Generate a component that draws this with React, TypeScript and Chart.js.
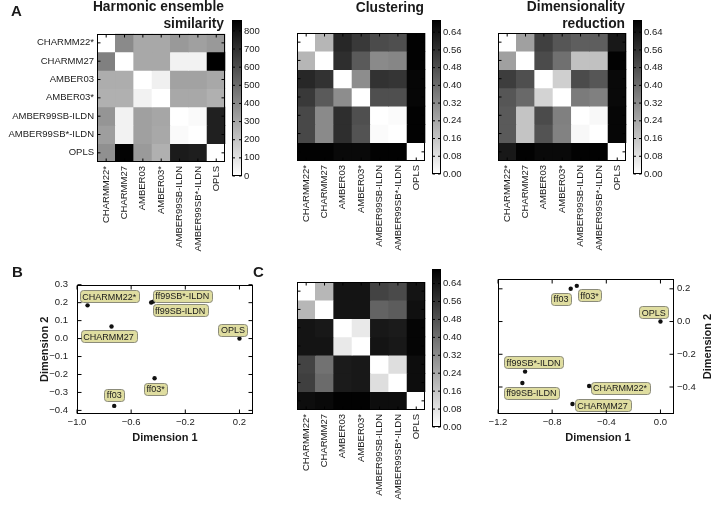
import React, { useEffect, useRef } from "react";
import { Chart, registerables } from "chart.js";

Chart.register(...registerables);

// ---------------- DATA ----------------
const models = [
  "CHARMM22*",
  "CHARMM27",
  "AMBER03",
  "AMBER03*",
  "AMBER99SB-ILDN",
  "AMBER99SB*-ILDN",
  "OPLS",
];

const harmonicValues = [
  [0, 395, 293, 293, 344, 320, 344],
  [428, 0, 293, 293, 45, 45, 860],
  [276, 276, 0, 50, 314, 314, 293],
  [266, 266, 44, 0, 293, 293, 266],
  [357, 44, 320, 300, 0, 17, 752],
  [326, 44, 320, 293, 17, 0, 752],
  [374, 850, 340, 266, 770, 759, 0],
];

const clusteringValues = [
  [0, 0.2, 0.59, 0.54, 0.49, 0.48, 0.69],
  [0.2, 0, 0.57, 0.45, 0.32, 0.33, 0.69],
  [0.59, 0.56, 0, 0.31, 0.56, 0.55, 0.68],
  [0.54, 0.45, 0.31, 0, 0.48, 0.48, 0.68],
  [0.5, 0.32, 0.57, 0.48, 0, 0.01, 0.69],
  [0.5, 0.32, 0.57, 0.47, 0.01, 0, 0.69],
  [0.69, 0.69, 0.67, 0.67, 0.69, 0.69, 0],
];

const dimredValues = [
  [0, 0.26, 0.52, 0.46, 0.44, 0.44, 0.63],
  [0.26, 0, 0.49, 0.39, 0.17, 0.17, 0.69],
  [0.53, 0.48, 0, 0.13, 0.49, 0.46, 0.67],
  [0.46, 0.41, 0.12, 0, 0.36, 0.345, 0.67],
  [0.45, 0.16, 0.49, 0.345, 0, 0.02, 0.68],
  [0.45, 0.16, 0.47, 0.34, 0.02, 0, 0.68],
  [0.63, 0.69, 0.67, 0.67, 0.69, 0.69, 0],
];

const panelCValues = [
  [0, 0.2, 0.65, 0.65, 0.52, 0.5, 0.65],
  [0.2, 0, 0.65, 0.65, 0.43, 0.45, 0.66],
  [0.65, 0.64, 0, 0.06, 0.64, 0.63, 0.69],
  [0.65, 0.65, 0.06, 0, 0.65, 0.64, 0.69],
  [0.52, 0.39, 0.63, 0.64, 0, 0.09, 0.67],
  [0.53, 0.41, 0.63, 0.64, 0.09, 0, 0.67],
  [0.67, 0.68, 0.7, 0.7, 0.67, 0.67, 0],
];

const harmonicMax = 860;
const clusteringMax = 0.695;
const dimredMax = 0.695;
const panelCMax = 0.705;

const harmonicTicks = [0, 100, 200, 300, 400, 500, 600, 700, 800];
const distanceTicks = [0, 0.08, 0.16, 0.24, 0.32, 0.4, 0.48, 0.56, 0.64];

const scatterBLabels = ["CHARMM22*", "CHARMM27", "ff99SB*-ILDN", "ff99SB-ILDN", "OPLS", "ff03*", "ff03"];
const scatterBX = [-0.922, -0.745, -0.437, -0.452, 0.2, -0.427, -0.725];
const scatterBY = [0.185, 0.067, 0.206, 0.201, 0.0, -0.221, -0.375];
const scatterBXTicks = [-1.0, -0.6, -0.2, 0.2];
const scatterBYTicks = [-0.4, -0.3, -0.2, -0.1, 0, 0.1, 0.2, 0.3];

const scatterCLabels = ["ff03", "ff03*", "OPLS", "ff99SB*-ILDN", "ff99SB-ILDN", "CHARMM22*", "CHARMM27"];
const scatterCX = [-0.663, -0.618, 0.0, -1.0, -1.02, -0.527, -0.65];
const scatterCY = [0.2, 0.218, 0.0, -0.306, -0.376, -0.394, -0.504];
const scatterCXTicks = [-1.2, -0.8, -0.4, 0.0];
const scatterCYTicks = [-0.4, -0.2, 0, 0.2];

// ---------------- STYLE / LAYOUT ----------------
const FONT = "'Liberation Sans', Arial, Helvetica, sans-serif";
const TXT = "#1a1a1a";
const TICK_FONT = { family: FONT, size: 9.5 };
const LABEL_FILL = "#dfdda0";
const LABEL_EDGE = "#8b8b7a";

// label-box centre offsets (px) from each anchor point
const labelOffsetsB = [
  [21.7, -9.3],
  [-3, 9.8],
  [29, -5.6],
  [29, 8],
  [-6.5, -8.8],
  [1, 10.7],
  [0, -11],
];
const labelOffsetsC = [
  [-9.7, 9.8],
  [12.7, 9.5],
  [-6.7, -9.5],
  [8.4, -9.2],
  [9, 9.8],
  [31, 1.5],
  [30, 1.2],
];

const fmt0 = (v: number) => String(Math.round(v));
const fmt1 = (v: number) => (Math.abs(v) < 1e-9 ? 0 : v).toFixed(1).replace("-", "\u2212");
const fmt2 = (v: number) => v.toFixed(2);

function grayFor(v: number, vmax: number) {
  const t = Math.max(0, Math.min(1, v / vmax));
  const c = Math.round(255 * (1 - t));
  return `rgb(${c},${c},${c})`;
}

// ---------------- PLUGINS ----------------
const framePlugin = {
  id: "frame",
  afterDraw(chart: any, _args: any, opts: any) {
    const { ctx, chartArea: a } = chart;
    if (!a) return;
    ctx.save();
    ctx.strokeStyle = "#000";
    ctx.lineWidth = 1;
    const l = Math.round(a.left) + 0.5;
    const t = Math.round(a.top) + 0.5;
    const r = Math.round(a.right) - 0.5;
    const b = Math.round(a.bottom) - 0.5;
    ctx.strokeRect(l, t, r - l, b - t);
    const len = opts.tickLen || 0;
    if (len) {
      ctx.beginPath();
      if (!opts.skipX && chart.scales.x) {
        const s = chart.scales.x;
        s.ticks.forEach((_tk: any, i: number) => {
          const p = s.getPixelForTick(i);
          ctx.moveTo(p, b);
          ctx.lineTo(p, b - len);
          ctx.moveTo(p, t);
          ctx.lineTo(p, t + len);
        });
      }
      if (chart.scales.y) {
        const s = chart.scales.y;
        s.ticks.forEach((_tk: any, i: number) => {
          const p = s.getPixelForTick(i);
          ctx.moveTo(l, p);
          ctx.lineTo(l + len, p);
          ctx.moveTo(r, p);
          ctx.lineTo(r - len, p);
        });
      }
      ctx.stroke();
    }
    ctx.restore();
  },
};

function roundRectPath(ctx: CanvasRenderingContext2D, x: number, y: number, w: number, h: number, r: number) {
  ctx.beginPath();
  ctx.moveTo(x + r, y);
  ctx.lineTo(x + w - r, y);
  ctx.quadraticCurveTo(x + w, y, x + w, y + r);
  ctx.lineTo(x + w, y + h - r);
  ctx.quadraticCurveTo(x + w, y + h, x + w - r, y + h);
  ctx.lineTo(x + r, y + h);
  ctx.quadraticCurveTo(x, y + h, x, y + h - r);
  ctx.lineTo(x, y + r);
  ctx.quadraticCurveTo(x, y, x + r, y);
  ctx.closePath();
}

const pointLabelPlugin = {
  id: "ptLabels",
  afterDatasetsDraw(chart: any, _args: any, opts: any) {
    const meta = chart.getDatasetMeta(0);
    const ctx = chart.ctx as CanvasRenderingContext2D;
    ctx.save();
    ctx.font = `9px ${FONT}`;
    ctx.textAlign = "center";
    ctx.textBaseline = "middle";
    meta.data.forEach((el: any, i: number) => {
      const [dx, dy] = opts.offsets[i];
      const cx = el.x + dx;
      const cy = el.y + dy;
      const text = opts.labels[i];
      const w = ctx.measureText(text).width + 5;
      const h = 12;
      roundRectPath(ctx, Math.round(cx - w / 2) + 0.5, Math.round(cy - h / 2) + 0.5, Math.round(w), h, 3);
      ctx.fillStyle = LABEL_FILL;
      ctx.fill();
      ctx.strokeStyle = LABEL_EDGE;
      ctx.lineWidth = 1;
      ctx.stroke();
      ctx.fillStyle = TXT;
      ctx.fillText(text, cx, cy + 1);
    });
    ctx.restore();
  },
};

const freeTitlesPlugin = {
  id: "freeTitles",
  afterDraw(chart: any, _args: any, opts: any) {
    const ctx = chart.ctx as CanvasRenderingContext2D;
    const a = chart.chartArea;
    ctx.save();
    ctx.fillStyle = TXT;
    ctx.font = `bold 11px ${FONT}`;
    ctx.textAlign = "center";
    ctx.textBaseline = "middle";
    (opts.items || []).forEach((it: any) => {
      ctx.save();
      const y = it.y === "mid" ? (a.top + a.bottom) / 2 : it.y;
      ctx.translate(it.x, y);
      if (it.rotate) ctx.rotate(-Math.PI / 2);
      ctx.fillText(it.text, 0, 0);
      ctx.restore();
    });
    ctx.restore();
  },
};

const baseOptions = {
  responsive: false,
  animation: false,
  events: [],
  devicePixelRatio: 1,
};

// ---------------- CONFIG BUILDERS ----------------
function heatmapConfig(
  values: number[][],
  vmax: number,
  p: { padLeft: number; padRight: number; padTop: number; yWidth: number; xHeight: number; showY: boolean }
) {
  return {
    type: "bar",
    data: {
      labels: models,
      datasets: values.map((row, r) => ({
        data: row.map(() => [r, r + 1]),
        backgroundColor: row.map((v) => grayFor(v, vmax)),
        borderWidth: 0,
        grouped: false,
        barPercentage: 1,
        categoryPercentage: 1,
      })),
    },
    options: {
      ...baseOptions,
      layout: { padding: { left: p.padLeft, right: p.padRight, top: p.padTop, bottom: 0 } },
      plugins: { legend: { display: false }, tooltip: { enabled: false }, frame: { tickLen: 3 } },
      scales: {
        x: {
          type: "category",
          grid: { display: false, drawTicks: false },
          border: { display: false },
          ticks: { autoSkip: false, minRotation: 90, maxRotation: 90, padding: 4, color: TXT, font: TICK_FONT },
          afterFit: (s: any) => {
            s.height = p.xHeight;
          },
        },
        y: {
          type: "linear",
          display: p.showY,
          min: 0,
          max: 7,
          reverse: true,
          grid: { display: false, drawTicks: false },
          border: { display: false },
          afterBuildTicks: (s: any) => {
            s.ticks = models.map((_m, i) => ({ value: i + 0.5 }));
          },
          ticks: {
            padding: 3,
            color: TXT,
            font: TICK_FONT,
            callback: (v: any) => models[Math.floor(Number(v))],
          },
          afterFit: (s: any) => {
            s.width = p.yWidth;
          },
        },
      },
    },
    plugins: [framePlugin],
  };
}

function colorbarConfig(
  vmax: number,
  ticks: number[],
  fmt: (v: number) => string,
  p: { padTop: number; padBottom: number; yWidth: number }
) {
  return {
    type: "bar",
    data: {
      labels: [""],
      datasets: [
        {
          data: [[0, vmax]],
          backgroundColor: (c: any) => {
            const a = c.chart.chartArea;
            if (!a) return "#888";
            const g = c.chart.ctx.createLinearGradient(0, a.bottom, 0, a.top);
            g.addColorStop(0, "#ffffff");
            g.addColorStop(1, "#000000");
            return g;
          },
          borderWidth: 0,
          barPercentage: 1,
          categoryPercentage: 1,
        },
      ],
    },
    options: {
      ...baseOptions,
      layout: { padding: { left: 0, right: 0, top: p.padTop, bottom: p.padBottom } },
      plugins: { legend: { display: false }, tooltip: { enabled: false }, frame: { tickLen: 2.5, skipX: true } },
      scales: {
        x: { display: false },
        y: {
          type: "linear",
          position: "right",
          min: 0,
          max: vmax,
          grid: { display: false, drawTicks: false },
          border: { display: false },
          afterBuildTicks: (s: any) => {
            s.ticks = ticks.map((v) => ({ value: v }));
          },
          ticks: { padding: 2, color: TXT, font: TICK_FONT, callback: (v: any) => fmt(Number(v)) },
          afterFit: (s: any) => {
            s.width = p.yWidth;
          },
        },
      },
    },
    plugins: [framePlugin],
  };
}

function scatterBConfig() {
  return {
    type: "scatter",
    data: {
      datasets: [
        {
          data: scatterBX.map((x, i) => ({ x, y: scatterBY[i] })),
          pointRadius: 2.2,
          pointBackgroundColor: "#111",
          pointBorderColor: "#111",
          pointBorderWidth: 0,
        },
      ],
    },
    options: {
      ...baseOptions,
      layout: { padding: { left: 0, right: 9, top: 11, bottom: 0 } },
      plugins: {
        legend: { display: false },
        tooltip: { enabled: false },
        frame: { tickLen: 4 },
        ptLabels: { labels: scatterBLabels, offsets: labelOffsetsB },
      },
      scales: {
        x: {
          type: "linear",
          min: -1.0,
          max: 0.3,
          grid: { display: false, drawTicks: false },
          border: { display: false },
          afterBuildTicks: (s: any) => {
            s.ticks = scatterBXTicks.map((v) => ({ value: v }));
          },
          ticks: { padding: 3, color: TXT, font: TICK_FONT, callback: (v: any) => fmt1(Number(v)) },
          title: {
            display: true,
            text: "Dimension 1",
            color: TXT,
            font: { family: FONT, size: 11, weight: "bold" },
            padding: { top: 0, bottom: 5.4 },
          },
          afterFit: (s: any) => {
            s.height = 36;
          },
        },
        y: {
          type: "linear",
          min: -0.42,
          max: 0.3,
          grid: { display: false, drawTicks: false },
          border: { display: false },
          afterBuildTicks: (s: any) => {
            s.ticks = scatterBYTicks.map((v) => ({ value: v }));
          },
          ticks: { padding: 9, color: TXT, font: TICK_FONT, callback: (v: any) => fmt1(Number(v)) },
          title: {
            display: true,
            text: "Dimension 2",
            color: TXT,
            font: { family: FONT, size: 11, weight: "bold" },
            padding: { top: 38.4, bottom: 0 },
          },
          afterFit: (s: any) => {
            s.width = 77;
          },
        },
      },
    },
    plugins: [framePlugin, pointLabelPlugin],
  };
}

function scatterCConfig() {
  return {
    type: "scatter",
    data: {
      datasets: [
        {
          data: scatterCX.map((x, i) => ({ x, y: scatterCY[i] })),
          pointRadius: 2.2,
          pointBackgroundColor: "#111",
          pointBorderColor: "#111",
          pointBorderWidth: 0,
        },
      ],
    },
    options: {
      ...baseOptions,
      layout: { padding: { left: 18, right: 0, top: 11, bottom: 0 } },
      plugins: {
        legend: { display: false },
        tooltip: { enabled: false },
        frame: { tickLen: 4 },
        ptLabels: { labels: scatterCLabels, offsets: labelOffsetsC },
        freeTitles: {
          items: [
            { text: "Dimension 1", x: 118, y: 170 },
            { text: "Dimension 2", x: 228, y: "mid", rotate: true },
          ],
        },
      },
      scales: {
        x: {
          type: "linear",
          min: -1.2,
          max: 0.1,
          grid: { display: false, drawTicks: false },
          border: { display: false },
          afterBuildTicks: (s: any) => {
            s.ticks = scatterCXTicks.map((v) => ({ value: v }));
          },
          ticks: { padding: 3, color: TXT, font: TICK_FONT, callback: (v: any) => fmt1(Number(v)) },
          afterFit: (s: any) => {
            s.height = 36;
          },
        },
        y: {
          type: "linear",
          position: "right",
          min: -0.565,
          max: 0.26,
          grid: { display: false, drawTicks: false },
          border: { display: false },
          afterBuildTicks: (s: any) => {
            s.ticks = scatterCYTicks.map((v) => ({ value: v }));
          },
          ticks: { padding: 3, color: TXT, font: TICK_FONT, callback: (v: any) => fmt1(Number(v)) },
          afterFit: (s: any) => {
            s.width = 37;
          },
        },
      },
    },
    plugins: [framePlugin, pointLabelPlugin, freeTitlesPlugin],
  };
}

// ---------------- COMPONENTS ----------------
function ChartCanvas({ box, make }: { box: [number, number, number, number]; make: () => any }) {
  const ref = useRef<HTMLCanvasElement | null>(null);
  useEffect(() => {
    const chart = new Chart(ref.current as HTMLCanvasElement, make());
    return () => chart.destroy();
  }, []);
  const [left, top, width, height] = box;
  return (
    <canvas
      ref={ref}
      width={width}
      height={height}
      style={{ position: "absolute", left, top, width, height, display: "block" }}
    />
  );
}

const titleStyle = (right: number, top: number): React.CSSProperties => ({
  position: "absolute",
  left: 0,
  width: right,
  top,
  textAlign: "right",
  font: `bold 13.8px ${FONT}`,
  lineHeight: "16.5px",
  color: TXT,
  whiteSpace: "nowrap",
});

const letterStyle = (left: number, top: number): React.CSSProperties => ({
  position: "absolute",
  left,
  top,
  font: `bold 15px ${FONT}`,
  lineHeight: "16px",
  color: TXT,
});

export default function App() {
  return (
    <div
      style={{
        position: "absolute",
        left: 0,
        top: 0,
        width: 711,
        height: 512,
        background: "#ffffff",
        overflow: "hidden",
        fontFamily: FONT,
      }}
    >
      <ChartCanvas
        box={[0, 25, 232, 240]}
        make={() =>
          heatmapConfig(harmonicValues, harmonicMax, { padLeft: 0, padRight: 5, padTop: 8, yWidth: 97, xHeight: 103, showY: true })
        }
      />
      <ChartCanvas
        box={[232, 12, 45, 172]}
        make={() => colorbarConfig(harmonicMax, harmonicTicks, fmt0, { padTop: 8, padBottom: 8, yWidth: 35 })}
      />
      <ChartCanvas
        box={[287, 25, 145, 240]}
        make={() =>
          heatmapConfig(clusteringValues, clusteringMax, { padLeft: 10, padRight: 5, padTop: 8, yWidth: 0, xHeight: 104, showY: false })
        }
      />
      <ChartCanvas
        box={[432, 12, 40, 170]}
        make={() => colorbarConfig(clusteringMax, distanceTicks, fmt2, { padTop: 8, padBottom: 8, yWidth: 31 })}
      />
      <ChartCanvas
        box={[488, 25, 145, 240]}
        make={() =>
          heatmapConfig(dimredValues, dimredMax, { padLeft: 10, padRight: 5, padTop: 8, yWidth: 0, xHeight: 104, showY: false })
        }
      />
      <ChartCanvas
        box={[633, 12, 40, 170]}
        make={() => colorbarConfig(dimredMax, distanceTicks, fmt2, { padTop: 8, padBottom: 8, yWidth: 31 })}
      />
      <ChartCanvas box={[0, 270, 262, 180]} make={scatterBConfig} />
      <ChartCanvas
        box={[287, 274, 145, 238]}
        make={() =>
          heatmapConfig(panelCValues, panelCMax, { padLeft: 10, padRight: 5, padTop: 8, yWidth: 0, xHeight: 102, showY: false })
        }
      />
      <ChartCanvas
        box={[432, 261, 40, 174]}
        make={() => colorbarConfig(panelCMax, distanceTicks, fmt2, { padTop: 8, padBottom: 8, yWidth: 31 })}
      />
      <ChartCanvas box={[480, 268, 231, 182]} make={scatterCConfig} />

      <div style={titleStyle(224, -0.75)}>
        Harmonic ensemble
        <br />
        similarity
      </div>
      <div style={titleStyle(424, -0.25)}>Clustering</div>
      <div style={titleStyle(625, -0.75)}>
        Dimensionality
        <br />
        reduction
      </div>

      <div style={letterStyle(11, 2.5)}>A</div>
      <div style={letterStyle(12, 264)}>B</div>
      <div style={letterStyle(253, 264)}>C</div>
    </div>
  );
}
